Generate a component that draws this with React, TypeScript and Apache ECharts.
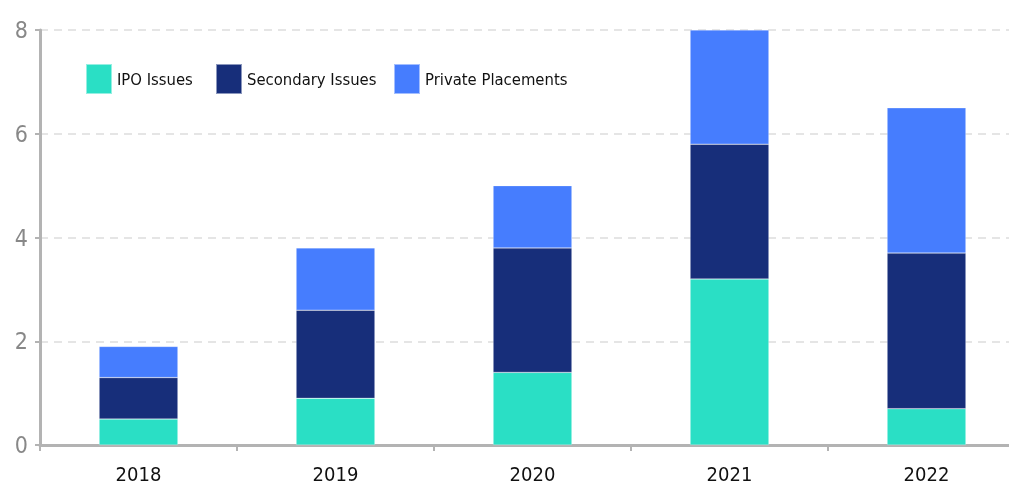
import React, { useEffect, useRef } from "react";
import * as echarts from "echarts";

const years = ["2018", "2019", "2020", "2021", "2022"];
const ipoIssues = [0.5, 0.9, 1.4, 3.2, 0.7];
const secondaryIssues = [0.8, 1.7, 2.4, 2.6, 3.0];
const privatePlacements = [0.6, 1.2, 1.2, 2.2, 2.8];
const seriesNames = ["IPO Issues", "Secondary Issues", "Private Placements"];
const colors = ["#2ADFC5", "#172E7A", "#467DFE"];
const legendLefts = [85, 215, 393];

const FONT = "'DejaVu Sans Condensed', 'DejaVu Sans', sans-serif";

export default function App() {
  const ref = useRef<HTMLDivElement>(null);
  useEffect(() => {
    if (!ref.current) return;
    const chart = echarts.init(ref.current, undefined, { renderer: "svg" });
    const values = [ipoIssues, secondaryIssues, privatePlacements];
    chart.setOption({
      animation: false,
      grid: { left: 40, right: 0, top: 30, bottom: 44, containLabel: false },
      legend: seriesNames.map((n, i) => ({
        data: [n],
        left: legendLefts[i],
        top: 63,
        padding: 0,
        itemWidth: 26,
        itemHeight: 30,
        itemGap: 9,
        icon: "rect",
        textStyle: { fontFamily: FONT, fontSize: 16.5, color: "#111" },
      })),
      xAxis: {
        type: "category",
        data: years,
        axisLine: { lineStyle: { color: "#b3b3b3", width: 3 } },
        axisTick: { show: true, length: 6, lineStyle: { color: "#b3b3b3", width: 2 } },
        axisLabel: { fontFamily: FONT, fontSize: 20, color: "#111", margin: 19 },
      },
      yAxis: {
        type: "value",
        min: 0,
        max: 8,
        interval: 2,
        axisLine: { show: true, lineStyle: { color: "#b3b3b3", width: 3 } },
        axisTick: { show: true, length: 5, lineStyle: { color: "#b3b3b3", width: 2 } },
        axisLabel: { fontFamily: FONT, fontSize: 23, color: "#888", margin: 12 },
        splitLine: { lineStyle: { color: "#dddddd", width: 1.5, type: [8, 6] } },
      },
      series: seriesNames.map((n, i) => ({
        name: n,
        type: "bar",
        stack: "total",
        data: values[i],
        barWidth: "40%",
        itemStyle: { color: colors[i], borderColor: "rgba(255,255,255,0.5)", borderWidth: 0.5 },
      })),
    });
    return () => chart.dispose();
  }, []);
  return (
    <div
      ref={ref}
      style={{ position: "fixed", left: 0, top: 0, width: 1025, height: 489 }}
    />
  );
}
